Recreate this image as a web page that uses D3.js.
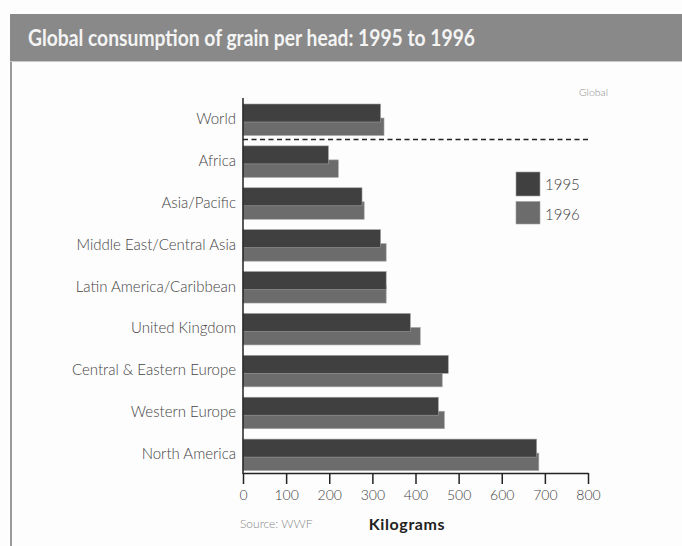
<!DOCTYPE html>
<html>
<head>
<meta charset="utf-8">
<script src="https://cdn.jsdelivr.net/npm/d3@7"></script>
<style>
  body { margin: 0; background: #fdfdfd; }
  svg { display: block; font-family: Lato, "DejaVu Sans", sans-serif; }
</style>
</head>
<body>
<svg width="682" height="546"></svg>
<script>
var regions = ["World", "Africa", "Asia/Pacific", "Middle East/Central Asia",
  "Latin America/Caribbean", "United Kingdom", "Central & Eastern Europe",
  "Western Europe", "North America"];
var kg1995 = [319, 198, 276, 319, 332, 388, 476, 453, 681];
var kg1996 = [327, 221, 281, 332, 332, 411, 462, 467, 686];
var years = ["1995", "1996"];
var xTicks = [0, 100, 200, 300, 400, 500, 600, 700, 800];

var svg = d3.select("svg");
var colors = { "1995": "#404040", "1996": "#6c6c6c" };

// banner + frame
svg.append("rect").attr("x", 10).attr("y", 14).attr("width", 672).attr("height", 47)
  .attr("fill", "#898989");
svg.append("line").attr("x1", 10).attr("x2", 682).attr("y1", 61.5).attr("y2", 61.5)
  .attr("stroke", "#c8c8c8").attr("stroke-width", 1);
svg.append("line").attr("x1", 11).attr("x2", 11).attr("y1", 62).attr("y2", 546)
  .attr("stroke", "#9a9a9a").attr("stroke-width", 2);
svg.append("text").attr("x", 28).attr("y", 46)
  .attr("fill", "#f4f4f4").attr("font-size", 23).attr("font-weight", "bold")
  .attr("textLength", 447).attr("lengthAdjust", "spacingAndGlyphs")
  .text("Global consumption of grain per head: 1995 to 1996");

var x = d3.scaleLinear().domain([0, 800]).range([243, 588]);
var y = d3.scaleBand().domain(regions).range([97, 474]);

var rows = regions.map(function(r, i) {
  return { region: r, v1995: kg1995[i], v1996: kg1996[i] };
});

var g = svg.append("g");

// 1996 bars behind, 1995 bars on top
g.selectAll(".b96").data(rows).enter().append("rect")
  .attr("class", "b96")
  .attr("x", x(0))
  .attr("y", function(d) { return y(d.region) + 21; })
  .attr("width", function(d) { return x(d.v1996) - x(0); })
  .attr("height", 17.5)
  .attr("fill", colors["1996"])
  .attr("stroke", "#a8a8a8").attr("stroke-width", 0.6);

g.selectAll(".b95").data(rows).enter().append("rect")
  .attr("class", "b95")
  .attr("x", x(0))
  .attr("y", function(d) { return y(d.region) + 7; })
  .attr("width", function(d) { return x(d.v1995) - x(0); })
  .attr("height", 18)
  .attr("fill", colors["1995"])
  .attr("stroke", "#a0a0a0").attr("stroke-width", 0.6);

// category labels
g.selectAll(".lab").data(rows).enter().append("text")
  .attr("class", "lab")
  .attr("x", 236)
  .attr("y", function(d) { return y(d.region) + 27; })
  .attr("text-anchor", "end")
  .attr("font-size", 15).attr("font-weight", 300)
  .attr("fill", "#444")
  .text(function(d) { return d.region; });

// dashed separator under World
svg.append("line")
  .attr("x1", x(0)).attr("x2", x(800))
  .attr("y1", y("Africa") + 0.5).attr("y2", y("Africa") + 0.5)
  .attr("stroke", "#222").attr("stroke-width", 1.5)
  .attr("stroke-dasharray", "5,3.5");

svg.append("text").attr("x", 608).attr("y", 96).attr("text-anchor", "end")
  .attr("font-size", 10.5).attr("font-weight", 300).attr("fill", "#8c8c8c").text("Global");

// y axis line
svg.append("line").attr("x1", x(0)).attr("x2", x(0)).attr("y1", 98).attr("y2", 474)
  .attr("stroke", "#222").attr("stroke-width", 1.5);

// x axis
var xAxis = svg.append("g").attr("transform", "translate(0,473)")
  .call(d3.axisBottom(x).tickValues(xTicks).tickSize(11).tickPadding(6).tickSizeOuter(0));
xAxis.select(".domain").attr("stroke", "#222").attr("stroke-width", 1.5);
xAxis.selectAll(".tick line").attr("stroke", "#222").attr("stroke-width", 1.5);
xAxis.selectAll(".tick text").attr("font-size", 14).attr("font-weight", 300).attr("fill", "#444")
  .attr("font-family", "Lato, sans-serif");

svg.append("text").attr("x", 240).attr("y", 528)
  .attr("font-size", 12).attr("font-weight", 300).attr("fill", "#888").text("Source: WWF");
svg.append("text").attr("x", 407).attr("y", 530).attr("text-anchor", "middle")
  .attr("font-size", 16).attr("font-weight", "bold").attr("letter-spacing", 0.6)
  .attr("fill", "#222").text("Kilograms");

// legend
var leg = svg.append("g").selectAll("g").data(years).enter().append("g")
  .attr("transform", function(d, i) { return "translate(516," + (172 + i * 29.5) + ")"; });
leg.append("rect").attr("width", 24).attr("height", function(d, i) { return i ? 22.5 : 24; })
  .attr("fill", function(d) { return colors[d]; })
  .attr("stroke", "#a0a0a0").attr("stroke-width", 0.6);
leg.append("text").attr("x", 29).attr("y", 18).attr("font-size", 15).attr("font-weight", 300)
  .attr("fill", "#444")
  .text(function(d) { return d; });
</script>
</body>
</html>
